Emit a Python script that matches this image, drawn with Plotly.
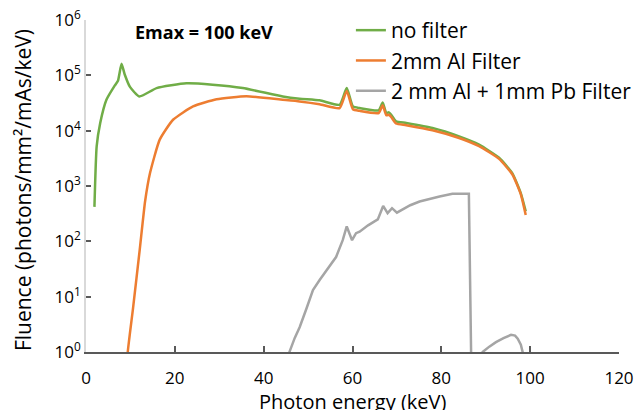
import plotly.graph_objects as go

# ---- data ----
energy_nofilter = [1.9, 2.4, 3.2, 4.6, 6.5, 7.2, 8.0, 8.7, 9.9, 12.0, 15.9, 22.6, 28.5, 35.3,
                   44.3, 48.1, 52.6, 57.1, 58.7, 60.1, 61.6, 65.9, 66.8, 67.6, 68.2, 68.7,
                   69.8, 72.1, 78.0, 84.0, 88.5, 93.0, 96.0, 97.9, 99.0]
fluence_nofilter = [420, 5200, 13800, 36300, 66000, 80000, 162000, 105000, 62000, 41700,
                    59000, 72000, 68000, 59000, 41700, 38000, 35500, 29500, 59000, 27500,
                    25700, 23400, 32400, 20900, 21500, 19500, 14800, 13800, 11200, 7900,
                    5600, 3240, 1700, 740, 350]

energy_al = [9.0, 9.4, 10.6, 12.1, 13.3, 14.4, 16.6, 19.6, 24.1, 29.4, 36.1, 44.3, 48.1,
             52.6, 57.1, 58.7, 60.1, 61.6, 65.9, 66.8, 67.6, 68.2, 68.7, 69.8, 72.1, 78.0,
             84.0, 88.5, 93.0, 96.0, 97.9, 99.0]
fluence_al = [0.3, 1.0, 6.3, 71, 525, 1700, 6900, 15800, 27500, 37000, 42000, 36300,
              33900, 30200, 25700, 52500, 24500, 22900, 20900, 28800, 19100, 19500, 17800,
              13500, 12600, 10200, 7400, 5250, 3100, 1620, 710, 300]

energy_pb = [45.0, 45.8, 47.0, 48.1, 49.6, 51.1, 52.6, 54.5, 55.6, 56.3, 57.8, 58.7, 59.9,
             60.8, 61.6, 63.5, 65.7, 66.9, 67.9, 68.9, 70.0, 71.3, 73.0, 75.1, 77.5, 79.6,
             82.5, 85.9, 86.2, 86.7, 87.2, 88.8, 89.3, 90.8, 92.3, 94.0, 95.7, 96.6, 97.2,
             97.9, 98.3, 98.6]
fluence_pb = [0.5, 1.0, 1.8, 2.8, 6.0, 13.2, 20, 32, 42, 52, 105, 186, 105,
              141, 150, 195, 250, 437, 324, 398, 331, 380, 450, 525, 590, 646,
              724, 724, 724, 1.0, 0.3, 0.5, 1.0, 1.25, 1.51, 1.78, 2.04, 1.98, 1.74,
              1.35, 1.0, 0.3]

series = [
    ("no filter", energy_nofilter, fluence_nofilter, "#70AD47", "spline"),
    ("2mm Al Filter", energy_al, fluence_al, "#ED7D31", "spline"),
    ("2 mm Al + 1mm Pb Filter", energy_pb, fluence_pb, "#A5A5A5", "linear"),
]

x_ticks = [0, 20, 40, 60, 80, 100, 120]
y_ticks = [1, 10, 100, 1000, 10000, 100000, 1000000]
y_ticktext = ["10<sup>%d</sup>" % i for i in range(7)]

FONT = "Open Sans"

fig = go.Figure()
for i, (name, xs, ys, col, shape) in enumerate(series):
    line = dict(color=col, width=2.5, shape=shape)
    if shape == "spline":
        line["smoothing"] = 0.5
    fig.add_trace(go.Scatter(x=xs, y=ys, mode="lines", name=name,
                             legendgroup="g%d" % i, line=line))

# page body has an 8px default margin; the figure is sized to fit the window
fig.update_layout(
    width=635, height=402,
    margin=dict(l=78, r=24, t=12, b=58, autoexpand=False),
    paper_bgcolor="white", plot_bgcolor="white",
    font=dict(family=FONT, color="#000000", size=17),
    showlegend=True,
    legend=dict(x=0.497, y=0.995, xanchor="left", yanchor="top", yref="container",
                bgcolor="rgba(0,0,0,0)", font=dict(size=21, family=FONT),
                tracegroupgap=0, itemwidth=30),
    annotations=[
        dict(text="<b>Emax = 100 keV</b>", xref="paper", yref="paper",
             x=0.088, y=0.964, xanchor="left", yanchor="middle",
             showarrow=False, font=dict(size=18, family=FONT)),
        dict(text="Fluence (photons/mm²/mAs/keV)", xref="paper", yref="paper",
             x=-0.118, y=0.488, xanchor="center", yanchor="middle", textangle=-90,
             showarrow=False, font=dict(size=21, family=FONT)),
        dict(text="Photon energy (keV)", xref="paper", yref="paper",
             x=0.5, y=-0.102, xanchor="center", yanchor="top",
             showarrow=False, font=dict(size=20, family=FONT)),
    ],
)
fig.update_xaxes(range=[0, 120], tickvals=x_ticks, ticks="inside", ticklen=6,
                 tickwidth=1.5, tickcolor="#595959", showline=True,
                 linecolor="#595959", linewidth=1.5, showgrid=False, zeroline=False,
                 ticklabelstandoff=10, tickfont=dict(size=17), automargin=False,
                 ticklabeloverflow="allow")
fig.update_yaxes(type="log", range=[0, 6.002], tickvals=y_ticks, ticktext=y_ticktext,
                 ticks="inside", ticklen=5, tickwidth=1.5, tickcolor="#595959",
                 showline=True, linecolor="#d9d9d9", linewidth=1.5, showgrid=False,
                 zeroline=False, tickfont=dict(size=17), automargin=False,
                 ticklabeloverflow="allow")

fig.write_html("out.html")
